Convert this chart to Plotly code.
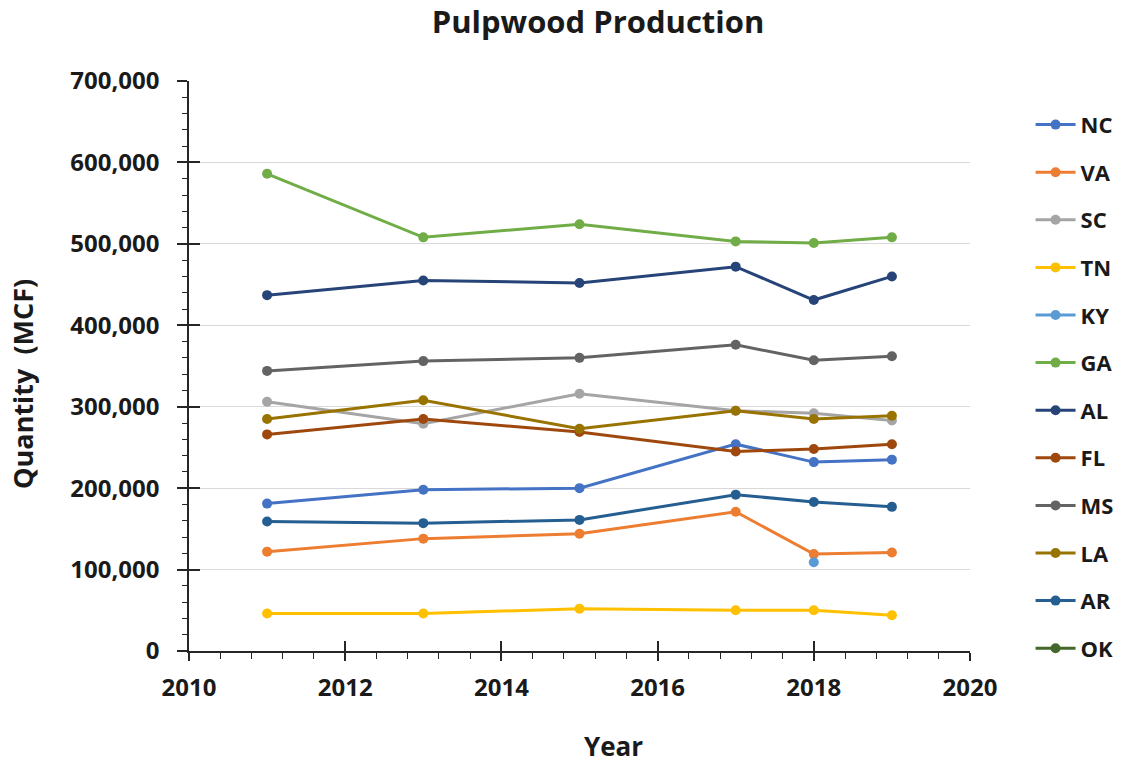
import plotly.graph_objects as go

# Survey years and pulpwood production (MCF) by state
years = [2011, 2013, 2015, 2017, 2018, 2019]

states = ["NC", "VA", "SC", "TN", "KY", "GA", "AL", "FL", "MS", "LA", "AR", "OK"]

nc = [181000, 198000, 200000, 254000, 232000, 235000]
va = [122000, 138000, 144000, 171000, 119000, 121000]
sc = [306000, 279000, 316000, 295000, 292000, 283000]
tn = [46000, 46000, 52000, 50000, 50000, 44000]
ky = [None, None, None, None, 109000, None]
ga = [586000, 508000, 524000, 503000, 501000, 508000]
al = [437000, 455000, 452000, 472000, 431000, 460000]
fl = [266000, 285000, 269000, 245000, 248000, 254000]
ms = [344000, 356000, 360000, 376000, 357000, 362000]
la = [285000, 308000, 273000, 295000, 285000, 289000]
ar = [159000, 157000, 161000, 192000, 183000, 177000]
ok = [None, None, None, None, None, None]

series = [nc, va, sc, tn, ky, ga, al, fl, ms, la, ar, ok]

colors = ["#4472C4", "#ED7D31", "#A5A5A5", "#FFC000", "#5B9BD5", "#70AD47",
          "#264478", "#9E480E", "#636363", "#997300", "#255E91", "#43682B"]

FONT = "Open Sans"
TEXT = "#1a1a1a"
AXIS = "#262626"

fig = go.Figure()

for name, vals, col in zip(states, series, colors):
    fig.add_trace(go.Scatter(
        x=years, y=vals, name=name, mode="lines+markers",
        line=dict(color=col, width=3),
        marker=dict(color=col, size=10),
        legendgroup=name,
        connectgaps=False,
    ))

# Empty trace so the overlaid tick axes get drawn
fig.add_trace(go.Scatter(x=[], y=[], xaxis="x2", yaxis="y2",
                         showlegend=False, hoverinfo="skip"))

fig.update_layout(
    width=1122, height=765,
    margin=dict(l=189, r=152, t=81, b=114, autoexpand=False),
    paper_bgcolor="white", plot_bgcolor="white",
    title=dict(text="<b>Pulpwood Production</b>", x=0.533, xanchor="center",
               y=0.971, yanchor="middle",
               font=dict(family=FONT, size=31, color=TEXT)),
    font=dict(family=FONT, color=TEXT),
    showlegend=True,
    legend=dict(
        xref="container", yref="container",
        x=0.9185, xanchor="left", y=0.8643, yanchor="top",
        font=dict(family=FONT, size=22, color=TEXT, weight="bold"),
        tracegroupgap=16, itemwidth=40, maxheight=700,
        bgcolor="rgba(0,0,0,0)",
    ),
    xaxis=dict(
        range=[2010, 2020], dtick=2, tick0=2010,
        showgrid=False, zeroline=False,
        showline=True, linecolor=AXIS, linewidth=1.5,
        ticks="outside", ticklen=8, tickwidth=1.5, tickcolor=AXIS,
        minor=dict(dtick=0.4, ticks="outside", ticklen=6, tickwidth=1.2,
                   tickcolor=AXIS, showgrid=False),
        tickfont=dict(family=FONT, size=24, color=TEXT, weight="bold"),
        ticklabelstandoff=6,
    ),
    yaxis=dict(
        range=[0, 700000], dtick=100000, tickformat=",d",
        showgrid=True, gridcolor="#D9D9D9", gridwidth=1,
        zeroline=False,
        showline=True, linecolor=AXIS, linewidth=1.5,
        ticks="outside", ticklen=10, tickwidth=1.5, tickcolor=AXIS,
        minor=dict(dtick=20000, ticks="outside", ticklen=5, tickwidth=1.2,
                   tickcolor=AXIS, showgrid=False),
        tickfont=dict(family=FONT, size=24, color=TEXT, weight="bold"),
        ticklabelstandoff=13,
    ),
    # Inside halves of the major ticks, so they cross the axis lines
    xaxis2=dict(
        overlaying="x", anchor="y2", side="bottom",
        range=[2010, 2020], dtick=2, tick0=2010,
        showgrid=False, zeroline=False, showline=False,
        showticklabels=False,
        ticks="inside", ticklen=10, tickwidth=1.5, tickcolor=AXIS,
    ),
    yaxis2=dict(
        overlaying="y", anchor="x2", side="left",
        range=[0, 700000], dtick=100000,
        showgrid=False, zeroline=False, showline=False,
        showticklabels=False,
        ticks="inside", ticklen=11, tickwidth=1.5, tickcolor=AXIS,
    ),
    annotations=[
        dict(text="<b>Year</b>", xref="paper", yref="paper",
             x=0.543, y=-0.166, xanchor="center", yanchor="middle",
             showarrow=False, font=dict(family=FONT, size=26, color=TEXT)),
        dict(text="<b>Quantity\u00a0 (MCF)</b>", xref="paper", yref="paper",
             x=-0.213, y=0.468, xanchor="center", yanchor="middle",
             textangle=-90, showarrow=False,
             font=dict(family=FONT, size=27, color=TEXT)),
    ],
)

fig.write_html("out.html")
